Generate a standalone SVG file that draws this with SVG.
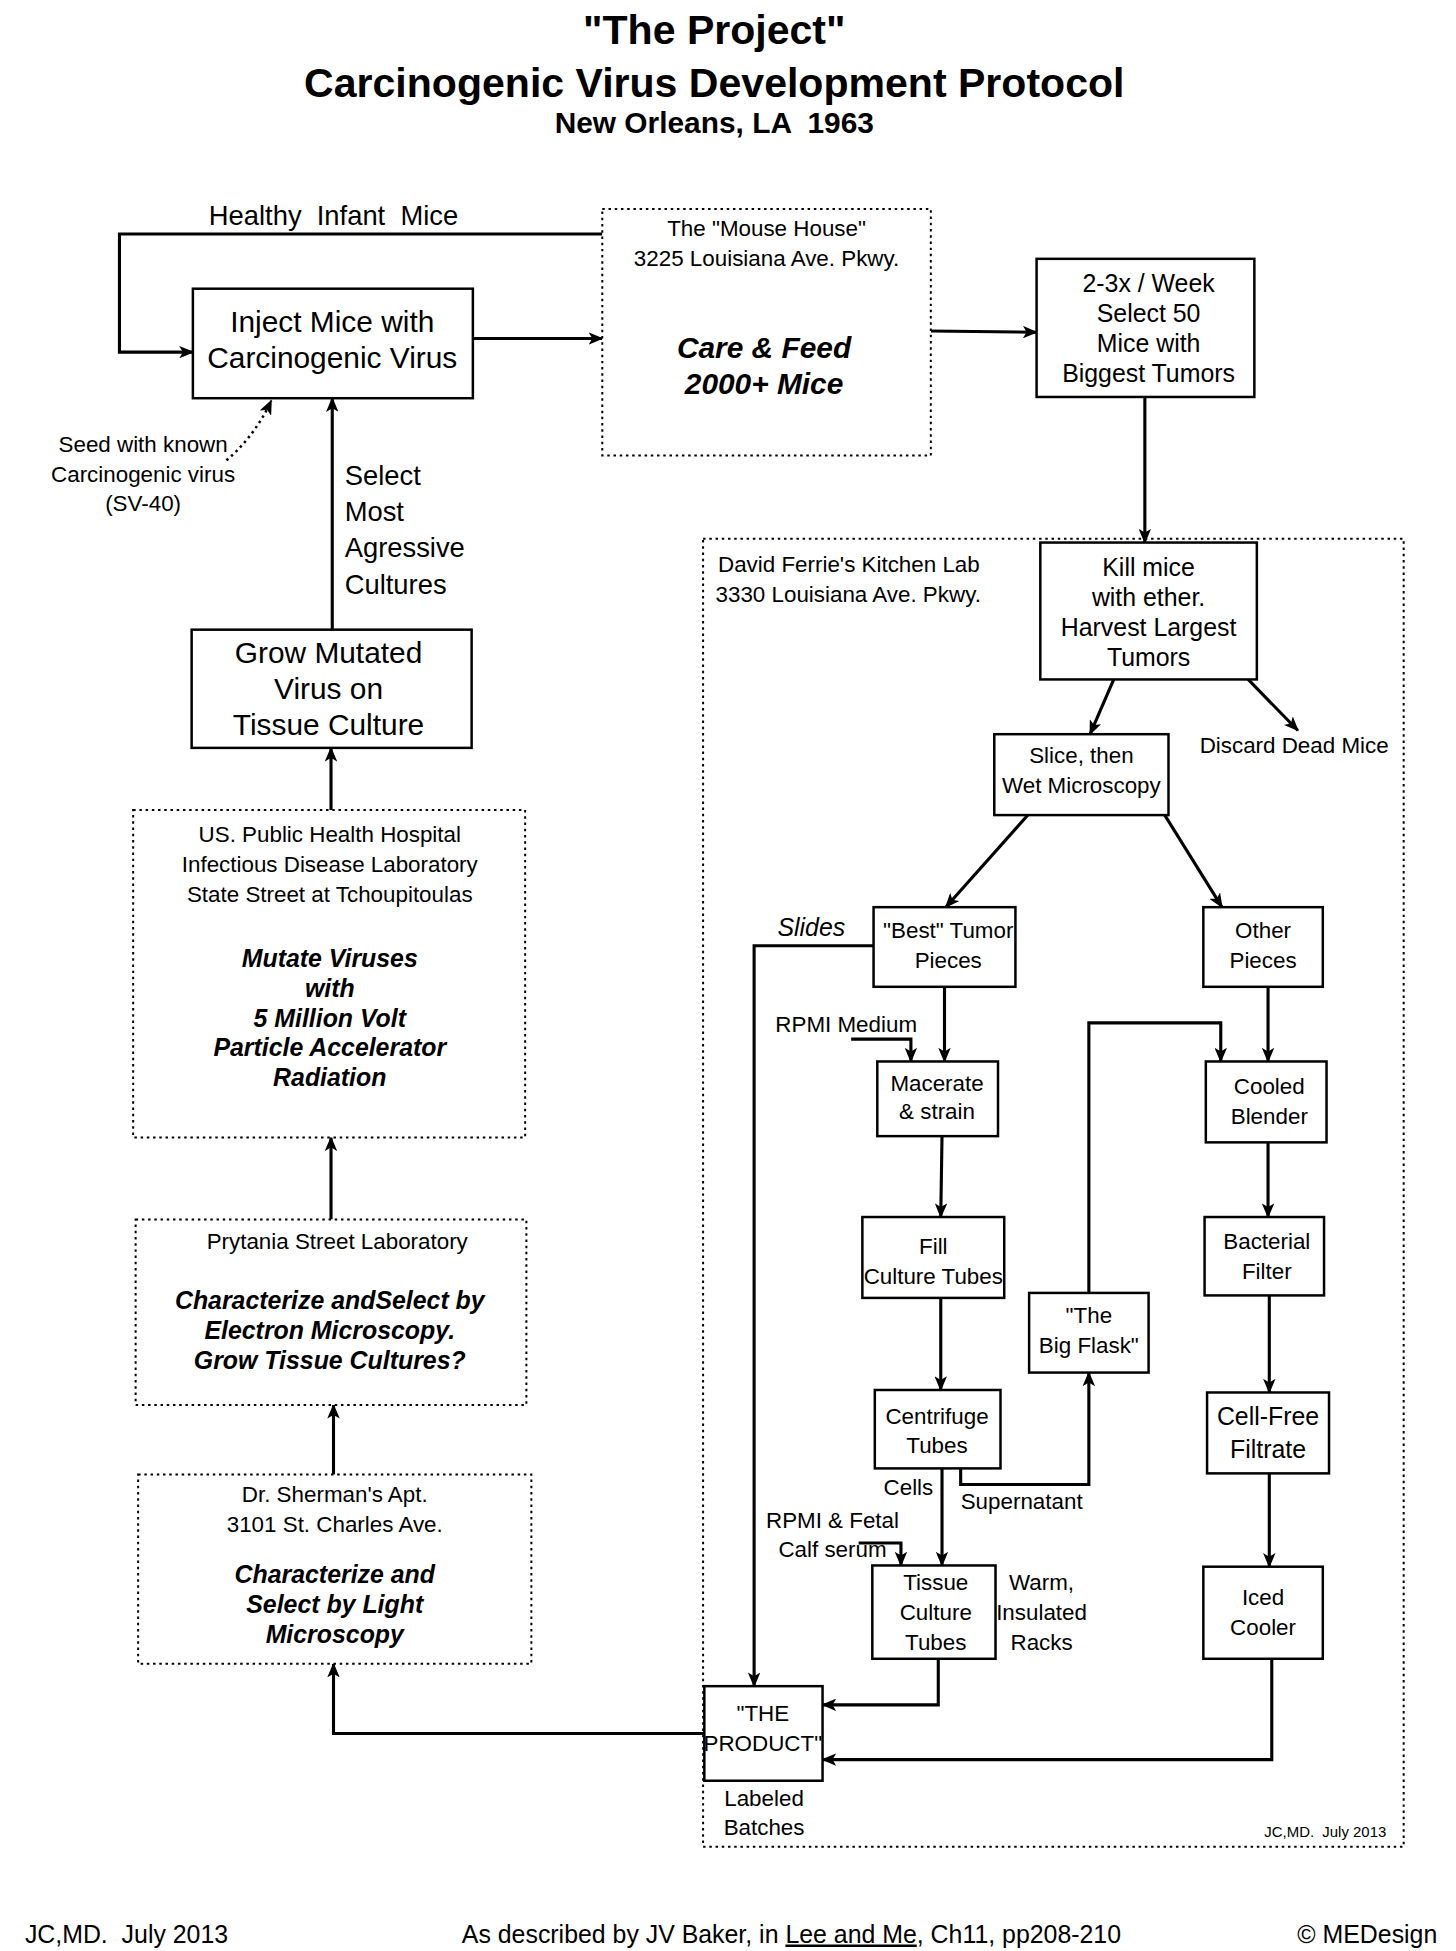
<svg xmlns="http://www.w3.org/2000/svg" width="1456" height="1951" viewBox="0 0 1456 1951">
<defs>
<marker id="ah" markerWidth="12" markerHeight="10" refX="11" refY="5" orient="auto" markerUnits="userSpaceOnUse"><path d="M0,0 L12,5 L0,10 L3,5 Z" fill="#000"/></marker>
</defs>
<style>
text{font-family:"Liberation Sans",Arial,sans-serif;fill:#000;text-anchor:middle}
.b{fill:#fff;stroke:#000;stroke-width:2}
.d{fill:#fff;stroke:#000;stroke-width:1.6;stroke-dasharray:2 3}
.c{fill:none;stroke:#000;stroke-width:2.5;marker-end:url(#ah)}
.n{fill:none;stroke:#000;stroke-width:2.5}
.t18{font-size:18px}.t20{font-size:20px}.t22{font-size:22px}.t24{font-size:24px}
.bi{font-weight:bold;font-style:italic}
.l{text-anchor:start}
.r{text-anchor:end}
</style>
<rect width="1456" height="1951" fill="#fff"/>
<g transform="scale(1.2444)">
<g id="title">
<text x="574" y="35" font-size="33" font-weight="bold">"The Project"</text>
<text x="574" y="78" font-size="33" font-weight="bold">Carcinogenic Virus Development Protocol</text>
<text x="574" y="107" font-size="24" font-weight="bold" xml:space="preserve">New Orleans, LA  1963</text>
</g>
<g id="kitchen"><rect class="d" x="565" y="433" width="563" height="1051"/>
<text class="t18 l" x="577" y="460">David Ferrie's Kitchen Lab</text>
<text class="t18 l" x="575" y="484">3330 Louisiana Ave. Pkwy.</text>
<text x="1065" y="1476" font-size="12" xml:space="preserve">JC,MD.  July 2013</text></g>
<g id="connectors">
<path class="c" d="M484,188 H96 V283 H155"/>
<path class="c" d="M380,272 H484"/>
<path class="c" d="M748,266 L833,267"/>
<path class="c" d="M920,319 V436"/>
<path class="c" d="M895,546 L876,590"/>
<path class="c" d="M1003,546 L1043,587"/>
<path class="c" d="M826,655 L760,729"/>
<path class="c" d="M936,655 L982,729"/>
<path class="c" d="M759,793 V853"/>
<path class="c" d="M684,835 H732 V853"/>
<path class="c" d="M757,913 L756,978"/>
<path class="c" d="M756,1043 V1117"/>
<path class="c" d="M757,1180 V1258"/>
<path class="c" d="M772,1180 V1193 H875 V1103"/>
<path class="c" d="M875,1039 V822 H981 V853"/>
<path class="c" d="M1019,793 V853"/>
<path class="c" d="M1019,918 V978"/>
<path class="c" d="M1020,1041 V1119"/>
<path class="c" d="M1020,1184 V1259"/>
<path class="c" d="M1022,1333 V1414 H661"/>
<path class="c" d="M754,1333 V1370 H661"/>
<path class="c" d="M690,1240 H724 V1258"/>
<path class="c" d="M702,760 H606 V1355"/>
<path class="c" d="M566,1393 H268 V1337"/>
<path class="c" d="M268,1185 V1129"/>
<path class="c" d="M266,980 V914"/>
<path class="c" d="M266,651 V601"/>
<path class="c" d="M267,506 V320"/>
<path d="M182,370 Q205,350 218,322" fill="none" stroke="#000" stroke-width="2" stroke-dasharray="2 3" marker-end="url(#ah)"/>
<text class="t22" x="268" y="181" xml:space="preserve">Healthy  Infant  Mice</text>
<text class="t18" x="115" y="363">Seed with known</text>
<text class="t18" x="115" y="387">Carcinogenic virus</text>
<text class="t18" x="115" y="411">(SV-40)</text>
<text class="t22 l" x="277" y="390">Select</text>
<text class="t22 l" x="277" y="419">Most</text>
<text class="t22 l" x="277" y="448">Agressive</text>
<text class="t22 l" x="277" y="477">Cultures</text>
<text class="t20" x="652" y="752" font-style="italic">Slides</text>
<text class="t18" x="680" y="829">RPMI Medium</text>
<text class="t18" x="730" y="1201">Cells</text>
<text class="t18" x="821" y="1213">Supernatant</text>
<text class="t18" x="669" y="1228">RPMI &amp; Fetal</text>
<text class="t18" x="669" y="1251">Calf serum</text>
<text class="t18" x="1040" y="605">Discard Dead Mice</text>
<text class="t18" x="837" y="1278">Warm,</text>
<text class="t18" x="837" y="1302">Insulated</text>
<text class="t18" x="837" y="1326">Racks</text>
<text class="t18" x="614" y="1451">Labeled</text>
<text class="t18" x="614" y="1475">Batches</text>
</g>
<g id="inject"><rect class="b" x="155" y="232" width="225" height="88"/><text class="t24" x="267" y="267">Inject Mice with</text><text class="t24" x="267" y="296">Carcinogenic Virus</text></g>
<g id="mousehouse"><rect class="d" x="484" y="168" width="264" height="198"/><text class="t18" x="616" y="190">The "Mouse House"</text><text class="t18" x="616" y="214">3225 Louisiana Ave. Pkwy.</text><text class="t24 bi" x="614" y="288">Care &amp; Feed</text><text class="t24 bi" x="614" y="317">2000+ Mice</text></g>
<g id="select50"><rect class="b" x="833" y="208" width="175" height="111"/><text class="t20" x="923" y="235">2-3x / Week</text><text class="t20" x="923" y="259">Select 50</text><text class="t20" x="923" y="283">Mice with</text><text class="t20" x="923" y="307">Biggest Tumors</text></g>
<g id="kill"><rect class="b" x="836" y="436" width="174" height="110"/><text class="t20" x="923" y="463">Kill mice</text><text class="t20" x="923" y="487">with ether.</text><text class="t20" x="923" y="511">Harvest Largest</text><text class="t20" x="923" y="535">Tumors</text></g>
<g id="slice"><rect class="b" x="799" y="590" width="140" height="65"/><text class="t18" x="869" y="613">Slice, then</text><text class="t18" x="869" y="637">Wet Microscopy</text></g>
<g id="best"><rect class="b" x="702" y="729" width="114" height="64"/><text class="t18" x="762" y="754">"Best" Tumor</text><text class="t18" x="762" y="778">Pieces</text></g>
<g id="other"><rect class="b" x="967" y="729" width="96" height="64"/><text class="t18" x="1015" y="754">Other</text><text class="t18" x="1015" y="778">Pieces</text></g>
<g id="macerate"><rect class="b" x="705" y="853" width="97" height="60"/><text class="t18" x="753" y="877">Macerate</text><text class="t18" x="753" y="899">&amp; strain</text></g>
<g id="blender"><rect class="b" x="969" y="853" width="97" height="65"/><text class="t18" x="1020" y="879">Cooled</text><text class="t18" x="1020" y="903">Blender</text></g>
<g id="fill"><rect class="b" x="693" y="978" width="114" height="65"/><text class="t18" x="750" y="1008">Fill</text><text class="t18" x="750" y="1032">Culture Tubes</text></g>
<g id="bacterial"><rect class="b" x="968" y="978" width="96" height="63"/><text class="t18" x="1018" y="1004">Bacterial</text><text class="t18" x="1018" y="1028">Filter</text></g>
<g id="flask"><rect class="b" x="827" y="1039" width="96" height="64"/><text class="t18" x="875" y="1063">"The</text><text class="t18" x="875" y="1087">Big Flask"</text></g>
<g id="centrifuge"><rect class="b" x="703" y="1117" width="101" height="63"/><text class="t18" x="753" y="1144">Centrifuge</text><text class="t18" x="753" y="1168">Tubes</text></g>
<g id="cellfree"><rect class="b" x="970" y="1119" width="98" height="65"/><text class="t20" x="1019" y="1145">Cell-Free</text><text class="t20" x="1019" y="1172">Filtrate</text></g>
<g id="tissue"><rect class="b" x="701" y="1258" width="99" height="75"/><text class="t18" x="752" y="1278">Tissue</text><text class="t18" x="752" y="1302">Culture</text><text class="t18" x="752" y="1326">Tubes</text></g>
<g id="iced"><rect class="b" x="967" y="1259" width="96" height="74"/><text class="t18" x="1015" y="1290">Iced</text><text class="t18" x="1015" y="1314">Cooler</text></g>
<g id="product"><rect class="b" x="566" y="1355" width="95" height="76"/><text class="t18" x="613" y="1383">"THE</text><text class="t18" x="613" y="1407">PRODUCT"</text></g>
<g id="grow"><rect class="b" x="154" y="506" width="225" height="95"/><text class="t24" x="264" y="533">Grow Mutated</text><text class="t24" x="264" y="562">Virus on</text><text class="t24" x="264" y="591">Tissue Culture</text></g>
<g id="usph"><rect class="d" x="107" y="651" width="315" height="263"/><text class="t18" x="265" y="677">US. Public Health Hospital</text><text class="t18" x="265" y="701">Infectious Disease Laboratory</text><text class="t18" x="265" y="725">State Street at Tchoupitoulas</text><text class="t20 bi" x="265" y="777">Mutate Viruses</text><text class="t20 bi" x="265" y="801">with</text><text class="t20 bi" x="265" y="825">5 Million Volt</text><text class="t20 bi" x="265" y="849">Particle Accelerator</text><text class="t20 bi" x="265" y="873">Radiation</text></g>
<g id="prytania"><rect class="d" x="109" y="980" width="314" height="149"/><text class="t18" x="271" y="1004">Prytania Street Laboratory</text><text class="t20 bi" x="265" y="1052">Characterize andSelect by</text><text class="t20 bi" x="265" y="1076">Electron Microscopy.</text><text class="t20 bi" x="265" y="1100">Grow Tissue Cultures?</text></g>
<g id="sherman"><rect class="d" x="111" y="1185" width="316" height="152"/><text class="t18" x="269" y="1207">Dr. Sherman's Apt.</text><text class="t18" x="269" y="1231">3101 St. Charles Ave.</text><text class="t20 bi" x="269" y="1272">Characterize and</text><text class="t20 bi" x="269" y="1296">Select by Light</text><text class="t20 bi" x="269" y="1320">Microscopy</text></g>
<g id="footer">
<text class="t20 l" x="20" y="1561" xml:space="preserve">JC,MD.  July 2013</text>
<text class="t20" x="636" y="1561">As described by JV Baker, in <tspan text-decoration="underline">Lee and Me</tspan>, Ch11, pp208-210</text>
<text class="t20 r" x="1155" y="1561">© MEDesign</text>
</g>
</g>
</svg>
